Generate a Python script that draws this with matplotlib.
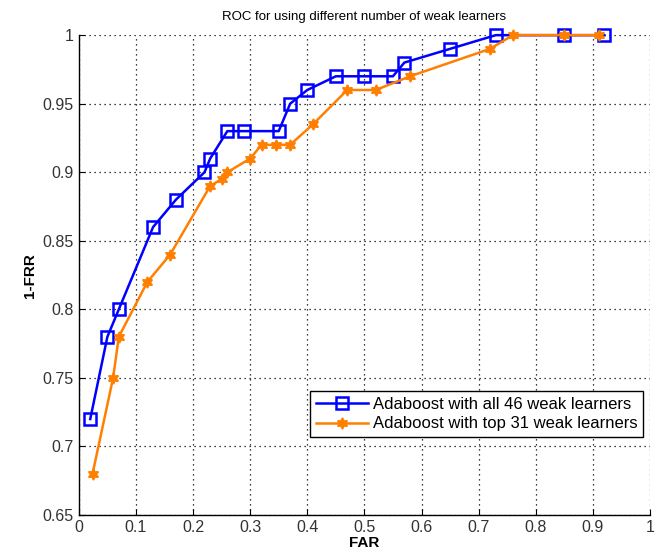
import matplotlib
matplotlib.use("Agg")
import matplotlib.pyplot as plt

plt.rcParams['font.family'] = ['Liberation Sans', 'DejaVu Sans']

far_all = [0.02, 0.05, 0.07, 0.13, 0.17, 0.22, 0.23, 0.26, 0.29, 0.35, 0.37, 0.40, 0.45, 0.50, 0.55, 0.57, 0.65, 0.73, 0.85, 0.92]
tpr_all = [0.72, 0.78, 0.80, 0.86, 0.88, 0.90, 0.91, 0.93, 0.93, 0.93, 0.95, 0.96, 0.97, 0.97, 0.97, 0.98, 0.99, 1.0, 1.0, 1.0]

far_top = [0.024, 0.06, 0.07, 0.12, 0.16, 0.23, 0.25, 0.26, 0.30, 0.32, 0.345, 0.37, 0.41, 0.47, 0.52, 0.58, 0.72, 0.76, 0.85, 0.91]
tpr_top = [0.68, 0.75, 0.78, 0.82, 0.84, 0.89, 0.895, 0.90, 0.91, 0.92, 0.92, 0.92, 0.935, 0.96, 0.96, 0.97, 0.99, 1.0, 1.0, 1.0]

labels = ['Adaboost with all 46 weak learners', 'Adaboost with top 31 weak learners']
xticks = [0, 0.1, 0.2, 0.3, 0.4, 0.5, 0.6, 0.7, 0.8, 0.9, 1]
yticks = [0.65, 0.7, 0.75, 0.8, 0.85, 0.9, 0.95, 1]

fig = plt.figure(figsize=(6.68, 5.58), dpi=100)
ax = fig.add_axes([0.118, 0.077, 0.855, 0.86])

ax.plot(far_all, tpr_all, color='#0000ff', lw=1.8, marker='s', markersize=8,
        markerfacecolor='none', markeredgewidth=1.8, label=labels[0], clip_on=False, zorder=3)
ax.plot(far_top, tpr_top, color='#ff8000', lw=1.8, marker=(6, 1, 0), markersize=8,
        markeredgewidth=1.2, label=labels[1], clip_on=False, zorder=3)

ax.set_xlim(0, 1)
ax.set_ylim(0.65, 1)
ax.set_xticks(xticks)
ax.set_yticks(yticks)
ax.set_xticklabels([f'{t:g}' for t in xticks])
ax.set_yticklabels([f'{t:g}' for t in yticks])
ax.tick_params(direction='in', labelsize=11.5, length=4, labelcolor='#333333')
ax.grid(True, linestyle=(0, (1, 3)), color='black', linewidth=0.9)
ax.spines['top'].set_visible(False)
ax.spines['right'].set_visible(False)
for s in ax.spines.values():
    s.set_linewidth(1.0)

ax.set_title('ROC for using different number of weak learners', fontsize=9.5, pad=11)
ax.set_xlabel('FAR', fontsize=11, fontweight='bold', labelpad=1)
ax.set_ylabel('1-FRR', fontsize=11, fontweight='bold', labelpad=4)

leg = ax.legend(loc='lower right', bbox_to_anchor=(0.988, 0.162), fontsize=12,
                fancybox=False, framealpha=1, edgecolor='black', borderpad=0.35,
                handlelength=3.1, labelspacing=0.25, handletextpad=0.3, borderaxespad=0)
leg.get_frame().set_linewidth(1.0)

fig.savefig('out.png', dpi=100)
